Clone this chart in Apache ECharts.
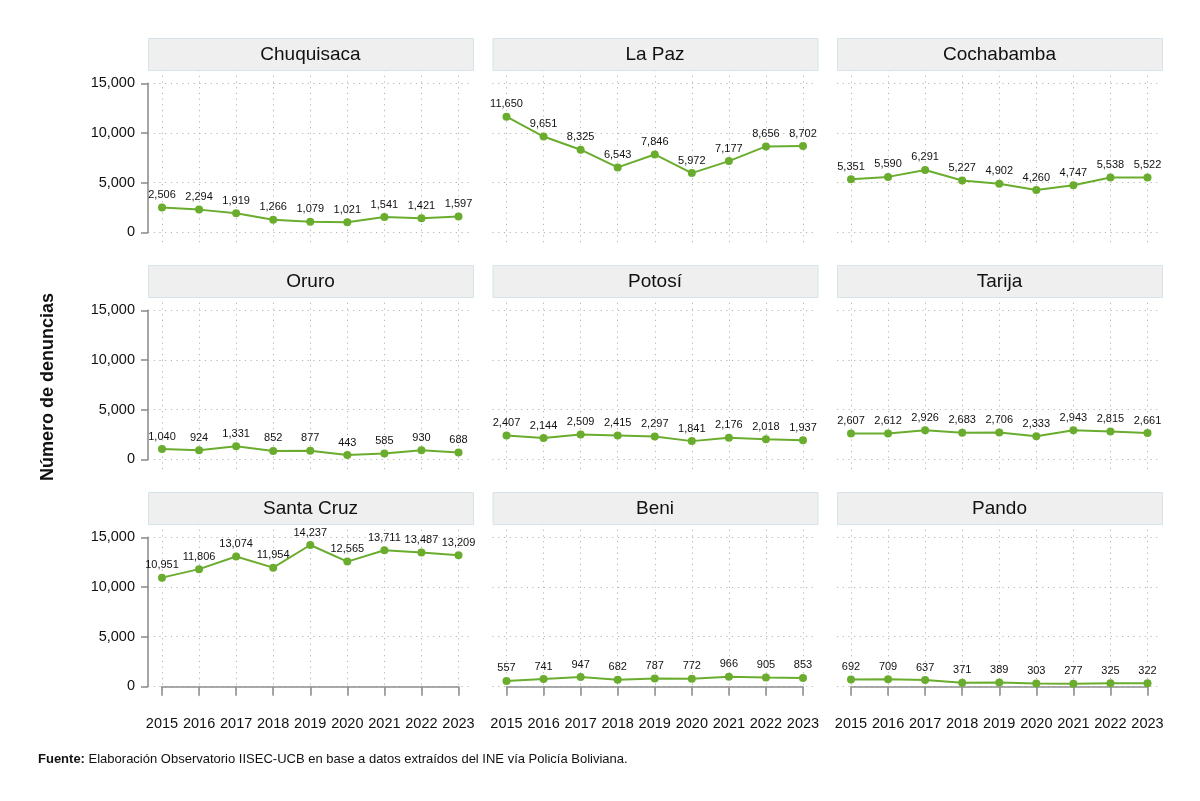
<!DOCTYPE html>
<html lang="es">
<head>
<meta charset="UTF-8">
<title>Denuncias por departamento</title>
<script src="https://cdn.jsdelivr.net/npm/echarts@6/dist/echarts.min.js"></script>
<style>
  html, body { margin: 0; padding: 0; background: #fff; }
  #main { width: 1200px; height: 801px; }
</style>
</head>
<body>
<div id="main"></div>
<script>
const years = ['2015', '2016', '2017', '2018', '2019', '2020', '2021', '2022', '2023'];
const yTicks = [0, 5000, 10000, 15000];

const chuquisaca = [2506, 2294, 1919, 1266, 1079, 1021, 1541, 1421, 1597];
const laPaz      = [11650, 9651, 8325, 6543, 7846, 5972, 7177, 8656, 8702];
const cochabamba = [5351, 5590, 6291, 5227, 4902, 4260, 4747, 5538, 5522];
const oruro      = [1040, 924, 1331, 852, 877, 443, 585, 930, 688];
const potosi     = [2407, 2144, 2509, 2415, 2297, 1841, 2176, 2018, 1937];
const tarija     = [2607, 2612, 2926, 2683, 2706, 2333, 2943, 2815, 2661];
const santaCruz  = [10951, 11806, 13074, 11954, 14237, 12565, 13711, 13487, 13209];
const beni       = [557, 741, 947, 682, 787, 772, 966, 905, 853];
const pando      = [692, 709, 637, 371, 389, 303, 277, 325, 322];

const panelNames = ['Chuquisaca', 'La Paz', 'Cochabamba', 'Oruro', 'Potosí', 'Tarija', 'Santa Cruz', 'Beni', 'Pando'];
const panelData = [chuquisaca, laPaz, cochabamba, oruro, potosi, tarija, santaCruz, beni, pando];

// layout
const FONT = '"Liberation Sans", Arial, sans-serif';
const colX = [148, 492.5, 837];
const rowY = [38, 265, 492];
const panelW = 325, headH = 32, inset = 14;
const pxPer = 149 / 15000;
const yMin = -1300, yMax = 16350;
const green = '#6aad2e';
const axisGrey = '#8f8f8f';
const dotted = { color: '#b5b5b5', width: 1, type: [1.2, 4.5] };
const fmt = v => v.toLocaleString('en-US');

const grid = [], xAxis = [], yAxis = [], series = [], graphic = [];

panelNames.forEach((name, i) => {
  const r = Math.floor(i / 3), c = i % 3;
  const hx = colX[c], hy = rowY[r];
  const top = hy + headH;

  // header strip
  graphic.push({
    type: 'rect', left: hx, top: hy, z: 10,
    shape: { width: panelW, height: headH },
    style: { fill: '#efefef', stroke: '#d6e4ea', lineWidth: 1 }
  });
  graphic.push({
    type: 'text', x: hx + panelW / 2, y: hy + headH / 2 + 1, z: 11,
    style: { text: name, font: '19px ' + FONT, fill: '#111', align: 'center', verticalAlign: 'middle' }
  });

  // wide grid: y axis + horizontal grid lines
  const gA = grid.length;
  grid.push({ left: hx, top: top + (yMax - 15000) * pxPer, width: panelW, height: 15000 * pxPer });
  xAxis.push({ gridIndex: gA, type: 'value', show: false });
  yAxis.push({
    gridIndex: gA, type: 'value', min: yTicks[0], max: yTicks[yTicks.length - 1], interval: 5000,
    axisLine: { show: c === 0, lineStyle: { color: axisGrey, width: 1.6 } },
    axisTick: { show: c === 0, length: 7, lineStyle: { color: axisGrey, width: 1.6 } },
    axisLabel: { show: c === 0, margin: 13, formatter: fmt, fontFamily: FONT, fontSize: 14.5, color: '#111' },
    splitLine: { show: true, lineStyle: dotted }
  });

  // narrow grid: data + vertical grid lines
  const gB = grid.length;
  grid.push({ left: hx + inset, top: top, width: panelW - 2 * inset - 0.5, height: (yMax - yMin) * pxPer });
  xAxis.push({
    gridIndex: gB, type: 'category', data: years, boundaryGap: false,
    axisLine: { show: r === 2, lineStyle: { color: axisGrey, width: 1.6 } },
    axisTick: { show: r === 2, length: 9, lineStyle: { color: axisGrey, width: 1.6 } },
    axisLabel: { show: r === 2, margin: 17, fontFamily: FONT, fontSize: 14.5, color: '#111', interval: 0 },
    splitLine: { show: true, interval: 0, lineStyle: dotted }
  });
  yAxis.push({ gridIndex: gB, type: 'value', min: yMin, max: yMax, show: false, splitLine: { show: false } });

  series.push({
    type: 'line', xAxisIndex: gB, yAxisIndex: gB, data: panelData[i],
    symbol: 'circle', symbolSize: 8,
    itemStyle: { color: green },
    lineStyle: { color: green, width: 2 },
    label: {
      show: true, position: 'top', distance: 3, formatter: p => fmt(p.value),
      fontFamily: FONT, fontSize: 11, color: '#111'
    },
    silent: true, animation: false
  });
});

// y title
graphic.push({
  type: 'text', x: 48, y: 387, rotation: Math.PI / 2,
  style: { text: 'Número de denuncias', font: 'bold 18px ' + FONT, fill: '#111', align: 'center', verticalAlign: 'middle' }
});
// source note
graphic.push({
  type: 'text', x: 38, y: 759,
  style: {
    text: '{b|Fuente:} Elaboración Observatorio IISEC-UCB en base a datos extraídos del INE vía Policía Boliviana.',
    verticalAlign: 'middle', fill: '#111',
    font: '13px ' + FONT,
    rich: { b: { fontWeight: 'bold', fontFamily: FONT, fontSize: 13 } }
  }
});

const chart = echarts.init(document.getElementById('main'), null, { renderer: 'canvas' });
chart.setOption({
  animation: false,
  backgroundColor: '#fff',
  grid, xAxis, yAxis, series, graphic
});
</script>
</body>
</html>
